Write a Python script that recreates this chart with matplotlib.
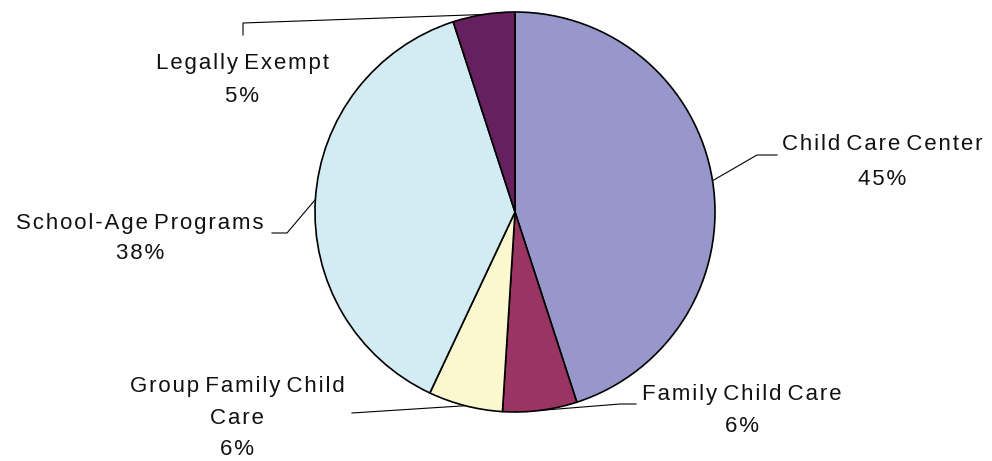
import numpy as np
import matplotlib.pyplot as plt

plt.rcParams["font.family"] = ["Liberation Sans", "DejaVu Sans"]

# provider type shares (%), clockwise from 12 o'clock
CATEGORIES = [
    "Child Care Center",
    "Family Child Care",
    "Group Family Child\nCare",
    "School-Age Programs",
    "Legally Exempt",
]
SHARES = [45, 6, 6, 38, 5]
COLORS = ["#9797cb", "#993463", "#fbf8cf", "#d3ecf3", "#66205f"]

W, H = 992, 461
CX, CY, R = 515, H - 212, 200

# label centre x, first baseline y, line step; leader elbow points (pixels, y down)
LABEL_POS = [(882, 150, 35), (742, 400, 32), (237, 392, 31.5), (140, 229, 30), (242, 69, 33)]
LEADERS = [
    [(757, 155), (777, 155)],
    [(620, 404), (636, 404)],
    [(352, 413)],
    [(287, 233), (272, 233)],
    [(243, 23), (243, 35)],
]

HAIR = "\u200a"


def tracked(line):
    """Open up the letter spacing a touch with hair spaces inside words."""
    out = []
    for i, ch in enumerate(line):
        out.append(ch)
        nxt = line[i + 1] if i + 1 < len(line) else None
        if nxt is not None and ch != " " and nxt != " ":
            out.append(HAIR)
    return "".join(out)


fig = plt.figure(figsize=(W / 100, H / 100), dpi=100)
ax = fig.add_axes([0, 0, 1, 1])

wedges, _ = ax.pie(
    SHARES,
    colors=COLORS,
    startangle=90,
    counterclock=False,
    center=(CX, CY),
    radius=R,
    wedgeprops=dict(edgecolor="black", linewidth=1.2),
)
ax.set_xlim(0, W)
ax.set_ylim(0, H)
ax.set_aspect("equal")
ax.set_axis_off()

for w, name, share, (tx, ty, step), elbow in zip(wedges, CATEGORIES, SHARES, LABEL_POS, LEADERS):
    mid = np.deg2rad((w.theta1 + w.theta2) / 2)
    pts = [(CX + R * np.cos(mid), CY + R * np.sin(mid))]
    pts += [(x, H - y) for x, y in elbow]
    xs, ys = zip(*pts)
    ax.plot(xs, ys, color="black", linewidth=0.8, zorder=1)

    lines = name.split("\n") + [f"{share}%"]
    for k, line in enumerate(lines):
        ax.text(tx, H - (ty + k * step), tracked(line), ha="center", va="baseline",
                fontsize=16, color="#111111")

fig.savefig("out.png", dpi=100)
